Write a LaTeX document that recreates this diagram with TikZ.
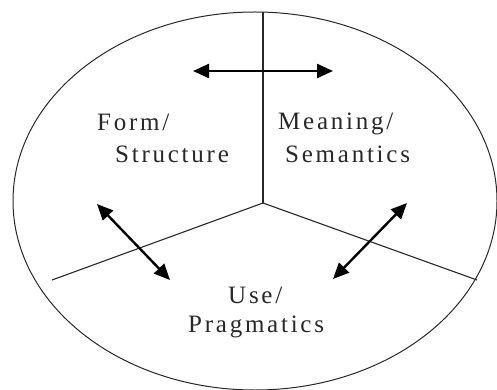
\documentclass[tikz,border=0pt]{standalone}
\usepackage{fontspec}
\setmainfont{Liberation Serif}[LetterSpace=11]
\usetikzlibrary{arrows.meta, positioning}
\definecolor{inkgray}{RGB}{40, 40, 40}

\tikzset{
  divider/.style={line width=1.1pt, inkgray},
  link/.style={line width=2.4pt, black, {Triangle[length=16pt, width=14pt]}-{Triangle[length=16pt, width=14pt]}},
  lbl/.style={inkgray, anchor=base west, inner sep=0pt, font=\fontsize{25}{29}\selectfont}
}

\begin{document}
\begin{tikzpicture}[x=1pt, y=-1pt]
  \useasboundingbox (0,0) rectangle (497,390);
  \fill[white] (0,0) rectangle (497,390);

  % outer ring
  \draw[line width=1pt, inkgray] (255,201) ellipse [x radius=242, y radius=189];

  % three sectors
  \coordinate (hub) at (263,203);
  \coordinate (top) at (263,12);
  \coordinate (leftend) at (52,280);
  \coordinate (rightend) at (477,280);
  \draw[divider] (top) -- (hub);
  \draw[divider] (hub) -- (leftend);
  \draw[divider] (hub) -- (rightend);

  % labels
  \node[lbl] (form) at (97,131) {Form/};
  \node[lbl] (structure) at (115,162) {Structure};
  \node[lbl] (meaning) at (278,130) {Meaning/};
  \node[lbl] (semantics) at (285,162) {Semantics};
  \node[lbl] (use) at (228,303) {Use/};
  \node[lbl] (pragmatics) at (188,332) {Pragmatics};

  % relations
  \coordinate (fmA) at (193,71);
  \coordinate (fmB) at (333,71);
  \coordinate (fuA) at (97,204);
  \coordinate (fuB) at (170,280);
  \coordinate (muA) at (407,203);
  \coordinate (muB) at (333,279);
  \draw[link] (fmA) -- (fmB);
  \draw[link] (fuA) -- (fuB);
  \draw[link] (muA) -- (muB);
\end{tikzpicture}
\end{document}
